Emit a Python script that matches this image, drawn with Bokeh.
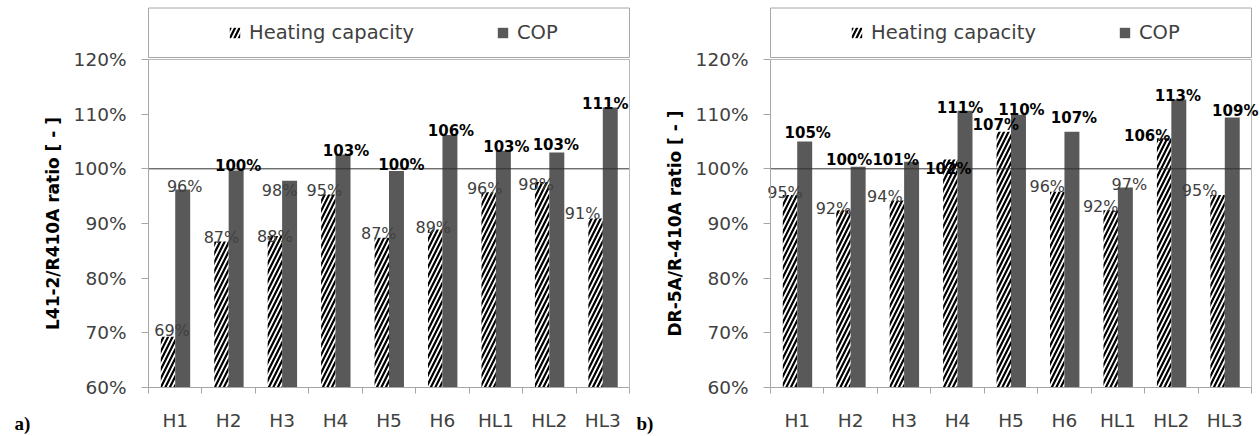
import math
from bokeh.plotting import figure
from bokeh.layouts import row
from bokeh.models import (Range1d, FixedTicker, NumeralTickFormatter, Legend, LegendItem,
                          BoxAnnotation, Label, ColumnDataSource)
from bokeh.transform import dodge
from bokeh.core.properties import value
from bokeh.embed import file_html
from bokeh.resources import INLINE

# ---------------- data ----------------
categories = ["H1", "H2", "H3", "H4", "H5", "H6", "HL1", "HL2", "HL3"]
y_ticks = [0.6, 0.7, 0.8, 0.9, 1.0, 1.1, 1.2]

heating_a = [0.693, 0.867, 0.877, 0.953, 0.874, 0.889, 0.957, 0.976, 0.909]
cop_a = [0.962, 0.997, 0.978, 1.026, 0.996, 1.062, 1.033, 1.030, 1.112]
heating_b = [0.952, 0.924, 0.942, 1.017, 1.068, 0.958, 0.924, 1.056, 0.952]
cop_b = [1.050, 1.004, 1.013, 1.106, 1.099, 1.068, 0.966, 1.127, 1.094]

series_names = ["Heating capacity", "COP"]
ylabel_a = "L41-2/R410A ratio [ - ]"
ylabel_b = "DR-5A/R-410A ratio [ - ]"
tags = ["a)", "b)"]

# ---------------- layout / style ----------------
FIG_W, FIG_H = 630, 436
PLOT_W = 481                 # px width of the category area
PLOT_BOTTOM = 387            # px from figure top to the 60 % line
PX_PER_UNIT = 546.7          # px per 100 %
Y_MIN = y_ticks[0]
N = len(categories)
UX = PLOT_W / N
Y_MAX = Y_MIN + PLOT_BOTTOM / PX_PER_UNIT
Y_LO = Y_MIN - (FIG_H - PLOT_BOTTOM) / PX_PER_UNIT
LEG_TOP = Y_MIN + (PLOT_BOTTOM - 7.5) / PX_PER_UNIT
LEG_BOTTOM = Y_MIN + (PLOT_BOTTOM - 57) / PX_PER_UNIT
HATCH_W, COP_W = 0.27, 0.28
GRAY = "#a6a6a6"
LIGHT = "#b8b8b8"
TXT = "#404040"
COP_COLOR = "#595959"
FONT = "DejaVu Sans"

# label nudges in screen pixels (dx, dy)
nudge_a_h = ([4, 0, 0, -4, -3, -2, -4, -6, -13], [-4, -2, 2, -2, -2, 0, -2, 5, -3])
nudge_a_c = ([2, 2, -10, 3, 5, 1, 3, -1, -5], [-1, -2, 12, -2, -4, -2, -2, -5, -2])
nudge_b_h = ([-5, -10, -12, -2, -8, -10, -10, -17, -18], [-1, 0, -2, 11, -5, -3, -2, 0, -3])
nudge_b_c = ([3, -9, -16, -5, 3, 2, 4, -1, 3], [-6, -5, 0, -1, -3, -12, -1, -1, -4])


def fmt(v):
    return "%d%%" % int(v * 100 + 0.5)


def make_panel(heating, cop, ylabel, tag, nh, nc, plot_left):
    xs = [i + 0.5 for i in range(N)]
    x_lo = -plot_left / UX
    x_hi = N + (FIG_W - plot_left - PLOT_W) / UX
    p = figure(width=FIG_W, height=FIG_H, output_backend="svg", toolbar_location=None,
               x_range=Range1d(x_lo, x_hi), y_range=Range1d(Y_LO, Y_MAX),
               min_border=0, min_border_left=0, min_border_right=0,
               min_border_top=0, min_border_bottom=0)
    p.outline_line_color = None
    p.grid.visible = False
    p.background_fill_color = "white"
    p.border_fill_color = "white"

    src = ColumnDataSource(dict(x=xs, heating=heating, cop=cop))
    rh = p.vbar(x=dodge("x", -HATCH_W / 2), top="heating", bottom=Y_MIN, width=HATCH_W, source=src,
                fill_color="white", line_color=None, hatch_pattern="/", hatch_color="black",
                hatch_scale=9, hatch_weight=2.2)
    rc = p.vbar(x=dodge("x", COP_W / 2), top="cop", bottom=Y_MIN, width=COP_W, source=src,
                fill_color=COP_COLOR, line_color=None)

    # plot-area lines: 100 % reference, 120 % top, right border
    p.segment(x0=[0], y0=[1.0], x1=[N], y1=[1.0], line_color="#303030", line_width=1)
    p.segment(x0=[0, N], y0=[y_ticks[-1], y_ticks[0]], x1=[N, N], y1=[y_ticks[-1], y_ticks[-1]],
              line_color=LIGHT, line_width=1)

    # value labels
    for vals, off, nud in ((heating, -HATCH_W / 2, nh), (cop, COP_W / 2, nc)):
        bold = [v >= 0.995 for v in vals]
        lsrc = ColumnDataSource(dict(
            x=xs, y=vals, t=[fmt(v) for v in vals],
            dx=nud[0], dy=[d - 2 for d in nud[1]],
            st=["bold" if b else "normal" for b in bold],
            col=["black" if b else TXT for b in bold],
            fs=["15px" if b else "16px" for b in bold]))
        p.text(x=dodge("x", off), y="y", text="t", source=lsrc, x_offset="dx", y_offset="dy",
               text_align="center", text_baseline="alphabetic", text_font=value(FONT),
               text_font_style="st", text_color="col", text_font_size="fs")

    # legend frame
    p.add_layout(BoxAnnotation(left=0, right=N, bottom=LEG_BOTTOM, top=LEG_TOP,
                               fill_alpha=0, line_color=GRAY, line_width=1, line_alpha=1))

    # value axis (drawn at x = 0)
    ya = p.yaxis[0]
    ya.fixed_location = 0
    ya.ticker = FixedTicker(ticks=y_ticks)
    ya.formatter = NumeralTickFormatter(format="0%")
    ya.bounds = (y_ticks[0], y_ticks[-1])
    ya.axis_line_color = GRAY
    ya.major_tick_line_color = GRAY
    ya.major_tick_out = 7
    ya.major_tick_in = 0
    ya.minor_tick_line_color = None
    ya.major_label_text_font = FONT
    ya.major_label_text_font_size = "18.5px"
    ya.major_label_text_color = TXT
    ya.major_label_standoff = 15

    # category axis (drawn at 60 %)
    xa = p.xaxis[0]
    xa.fixed_location = Y_MIN
    xa.ticker = FixedTicker(ticks=xs, minor_ticks=list(range(N + 1)))
    xa.major_label_overrides = {x: c for x, c in zip(xs, categories)}
    xa.bounds = (0, N)
    xa.axis_line_color = GRAY
    xa.major_tick_out = 0
    xa.major_tick_in = 0
    xa.minor_tick_line_color = GRAY
    xa.minor_tick_out = 6
    xa.minor_tick_in = 0
    xa.major_label_text_font = FONT
    xa.major_label_text_font_size = "18.5px"
    xa.major_label_text_color = TXT
    xa.major_label_standoff = 16

    # value-axis title (rotated)
    p.add_layout(Label(x=-96 / UX, y=(y_ticks[0] + y_ticks[-1]) / 2, text=ylabel,
                       angle=math.pi / 2, text_align="center", text_baseline="middle",
                       text_font=FONT, text_font_style="bold", text_font_size="17px",
                       text_color="black"))

    # legend
    leg = Legend(items=[LegendItem(label=series_names[0], renderers=[rh]),
                        LegendItem(label=series_names[1], renderers=[rc])],
                 location=(plot_left + 80, 392), orientation="horizontal",
                 border_line_color=None, background_fill_alpha=0,
                 padding=0, margin=0, spacing=10, label_standoff=8,
                 glyph_width=13, glyph_height=13, label_width=237,
                 label_text_font=FONT, label_text_font_size="19.5px", label_text_color=TXT)
    p.add_layout(leg)

    # panel tag
    p.add_layout(Label(x=-134 / UX, y=Y_MIN - 36 / PX_PER_UNIT, text=tag,
                       text_font="Liberation Serif", text_font_style="bold",
                       text_font_size="19px", text_color="black", text_baseline="alphabetic"))
    return p


p1 = make_panel(heating_a, cop_a, ylabel_a, tags[0], nudge_a_h, nudge_a_c, 148)
p2 = make_panel(heating_b, cop_b, ylabel_b, tags[1], nudge_b_h, nudge_b_c, 140)
layout = row(p1, p2)

open("out.html", "w").write(file_html(layout, INLINE))
